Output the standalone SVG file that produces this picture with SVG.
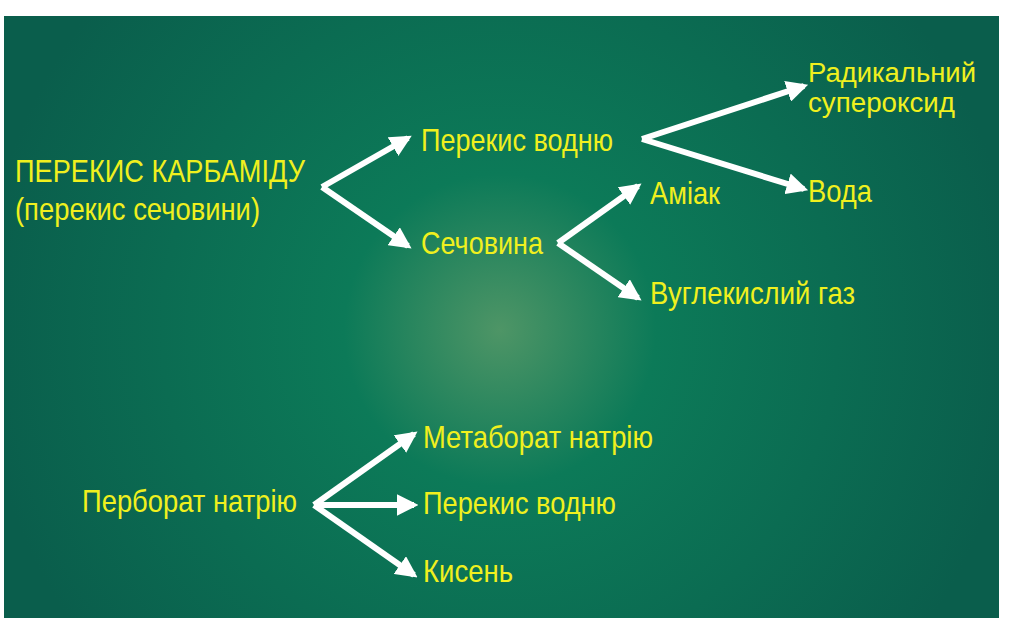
<svg xmlns="http://www.w3.org/2000/svg" width="1015" height="620" viewBox="0 0 1015 620">
<defs>
<radialGradient id="bg" cx="500" cy="330" r="520" gradientUnits="userSpaceOnUse">
<stop offset="0" stop-color="#4e9566"/>
<stop offset="0.3" stop-color="#0c7a58"/>
<stop offset="1" stop-color="#0a5e4c"/>
</radialGradient>
<marker id="ah" viewBox="0 0 10 10" refX="8" refY="5" markerWidth="3.6" markerHeight="3.6" markerUnits="strokeWidth" orient="auto"><path d="M0,0 L10,5 L0,10 z" fill="#fff"/></marker>
<style>
text{font-family:"Liberation Sans",Arial,sans-serif;font-size:32px;fill:#f0f01e}
.s{font-size:27px}
.c{fill:none;stroke:#fff;stroke-width:6;stroke-linejoin:miter}
</style>
</defs>
<rect width="1015" height="620" fill="#fff"/>
<rect x="4" y="16" width="995" height="602" fill="url(#bg)"/>
<g id="connectors">
<line class="c" x1="322" y1="187" x2="408" y2="138" marker-end="url(#ah)"/>
<line class="c" x1="322" y1="187" x2="408" y2="246" marker-end="url(#ah)"/>
<line class="c" x1="642" y1="139" x2="804" y2="86" marker-end="url(#ah)"/>
<line class="c" x1="642" y1="139" x2="804" y2="189" marker-end="url(#ah)"/>
<line class="c" x1="558" y1="243" x2="638" y2="186" marker-end="url(#ah)"/>
<line class="c" x1="558" y1="243" x2="638" y2="298" marker-end="url(#ah)"/>
<line class="c" x1="314" y1="505" x2="414" y2="434" marker-end="url(#ah)"/>
<line class="c" x1="314" y1="505" x2="414" y2="505" marker-end="url(#ah)"/>
<line class="c" x1="314" y1="505" x2="414" y2="575" marker-end="url(#ah)"/>
</g>
<g id="n1"><text x="15" y="182" textLength="290" lengthAdjust="spacingAndGlyphs">ПЕРЕКИС КАРБАМІДУ</text><text x="15" y="220" textLength="245" lengthAdjust="spacingAndGlyphs">(перекис сечовини)</text></g>
<g id="n2"><text x="421" y="151" textLength="192" lengthAdjust="spacingAndGlyphs">Перекис водню</text></g>
<g id="n3"><text x="421" y="254" textLength="122" lengthAdjust="spacingAndGlyphs">Сечовина</text></g>
<g id="n4"><text x="650" y="204" textLength="70" lengthAdjust="spacingAndGlyphs">Аміак</text></g>
<g id="n5"><text x="650" y="304" textLength="205" lengthAdjust="spacingAndGlyphs">Вуглекислий газ</text></g>
<g id="n6"><text class="s" x="808" y="82" textLength="168" lengthAdjust="spacingAndGlyphs">Радикальний</text><text class="s" x="808" y="112" textLength="147" lengthAdjust="spacingAndGlyphs">супероксид</text></g>
<g id="n7"><text x="808" y="202" textLength="64" lengthAdjust="spacingAndGlyphs">Вода</text></g>
<g id="n8"><text x="82" y="512" textLength="215" lengthAdjust="spacingAndGlyphs">Перборат натрію</text></g>
<g id="n9"><text x="423" y="448" textLength="230" lengthAdjust="spacingAndGlyphs">Метаборат натрію</text></g>
<g id="n10"><text x="423" y="514" textLength="193" lengthAdjust="spacingAndGlyphs">Перекис водню</text></g>
<g id="n11"><text x="423" y="582" textLength="90" lengthAdjust="spacingAndGlyphs">Кисень</text></g>
</svg>
